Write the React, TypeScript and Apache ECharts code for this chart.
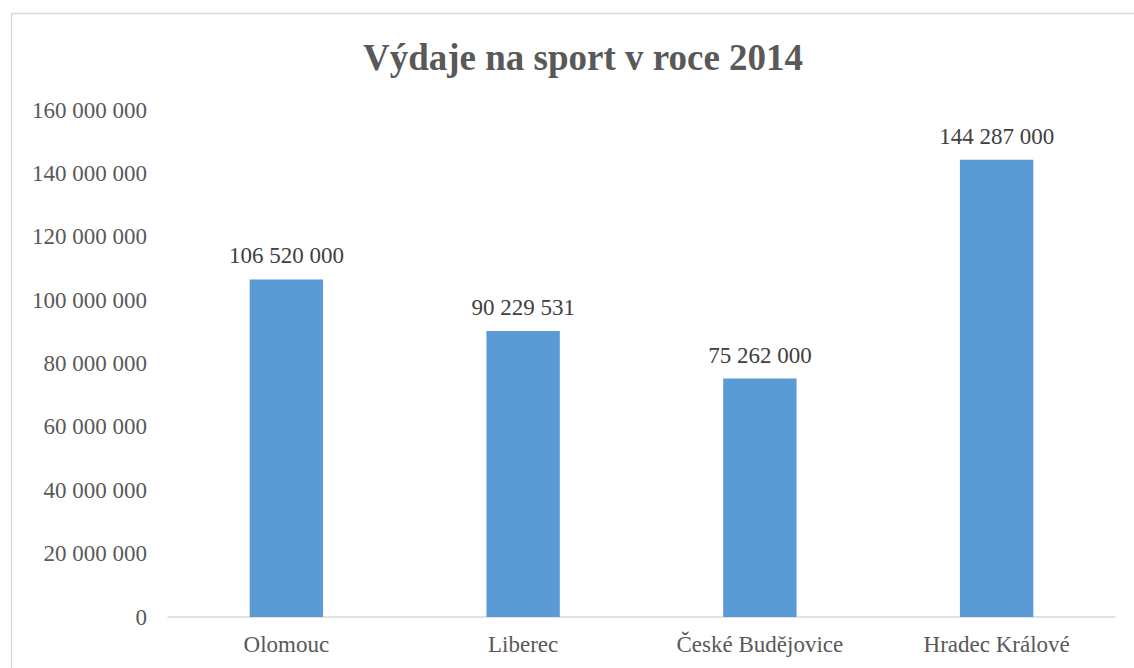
import React, { useEffect, useRef } from "react";
import * as echarts from "echarts";

const categories = ["Olomouc", "Liberec", "České Budějovice", "Hradec Králové"];
const values = [106520000, 90229531, 75262000, 144287000];
const titleText = "Výdaje na sport v roce 2014";

const fmt = (v: number) => String(Math.round(v)).replace(/\B(?=(\d{3})+(?!\d))/g, " ");

export default function App() {
  const ref = useRef<HTMLDivElement>(null);
  useEffect(() => {
    if (!ref.current) return;
    const chart = echarts.init(ref.current, null, { renderer: "svg" });
    const font = "'Liberation Serif', 'Times New Roman', serif";
    chart.setOption({
      animation: false,
      backgroundColor: "#ffffff",
      title: {
        text: titleText,
        left: 578,
        textAlign: "center",
        top: 34,
        textStyle: { fontFamily: font, fontSize: 37, fontWeight: "bold", color: "#595959" },
      },
      graphic: [
        {
          type: "rect",
          shape: { x: 11.5, y: 13.5, width: 1140, height: 680 },
          style: { fill: "none", stroke: "#d9d9d9", lineWidth: 1.5 },
          silent: true,
        },
      ],
      grid: { left: 168, right: 19, top: 110, bottom: 51, containLabel: false },
      xAxis: {
        type: "category",
        data: categories,
        axisLine: { show: true, lineStyle: { color: "#d9d9d9", width: 1.5 } },
        axisTick: { show: false },
        axisLabel: { fontFamily: font, fontSize: 23, color: "#595959", margin: 16 },
      },
      yAxis: {
        type: "value",
        min: 0,
        max: 160000000,
        interval: 20000000,
        axisLine: { show: false },
        axisTick: { show: false },
        splitLine: { show: false },
        axisLabel: {
          fontFamily: font,
          fontSize: 23,
          color: "#595959",
          margin: 21,
          formatter: (v: number) => fmt(v),
        },
      },
      series: [
        {
          type: "bar",
          data: values,
          barWidth: "31%",
          itemStyle: { color: "#5b9bd5" },
          label: {
            show: true,
            position: "top",
            distance: 12,
            fontFamily: font,
            fontSize: 23,
            color: "#404040",
            formatter: (p: any) => fmt(p.value),
          },
        },
      ],
    });
    return () => chart.dispose();
  }, []);
  return (
    <div
      ref={ref}
      style={{ position: "fixed", left: 0, top: 0, width: 1134, height: 668 }}
    />
  );
}
